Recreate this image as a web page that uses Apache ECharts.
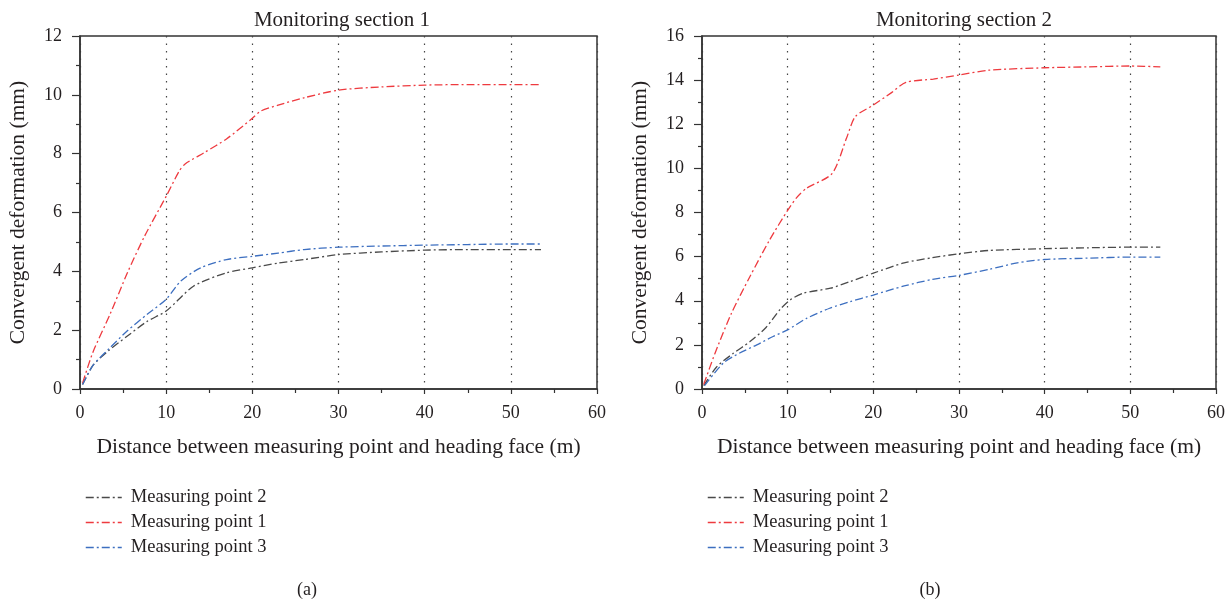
<!DOCTYPE html>
<html><head><meta charset="utf-8">
<script src="https://cdn.jsdelivr.net/npm/echarts@6/dist/echarts.min.js"></script>
<style>html,body{margin:0;padding:0;background:#fff}#c{width:1231px;height:601px}</style>
</head><body><div id="c"></div>
<script>
// Monitoring section 1
const s1_mp1_x = [0.3, 1.5, 3.5, 5.5, 7.5, 10, 11.5, 12.2, 14.5, 17, 20, 21, 23, 26, 30, 35, 40, 45, 50, 53.5];
const s1_mp1_y = [0.2, 1.25, 2.55, 3.95, 5.2, 6.55, 7.4, 7.65, 8.05, 8.5, 9.2, 9.45, 9.65, 9.9, 10.16, 10.27, 10.33, 10.35, 10.35, 10.35];
const s1_mp2_x = [0.3, 1.5, 3.3, 5.5, 7.8, 10, 13.2, 17, 20, 23, 26, 30, 35, 40, 45, 50, 53.5];
const s1_mp2_y = [0.15, 0.8, 1.3, 1.8, 2.3, 2.65, 3.5, 3.95, 4.12, 4.28, 4.4, 4.57, 4.66, 4.72, 4.74, 4.74, 4.74];
const s1_mp3_x = [0.3, 1.5, 3.3, 5.5, 7.8, 10, 11.7, 14, 17, 20, 23, 26, 30, 35, 40, 45, 50, 53.7];
const s1_mp3_y = [0.15, 0.8, 1.35, 1.98, 2.54, 3.05, 3.67, 4.12, 4.4, 4.51, 4.62, 4.74, 4.82, 4.86, 4.89, 4.91, 4.93, 4.93];
// Monitoring section 2
const s2_mp1_x = [0.2, 1.5, 3.4, 5.6, 7.9, 10, 11.1, 12.2, 15.2, 16.9, 17.9, 20, 22, 23.8, 27, 30, 33.5, 40, 45, 50, 53.5];
const s2_mp1_y = [0.2, 1.6, 3.4, 5.1, 6.76, 8.1, 8.7, 9.1, 9.77, 11.4, 12.35, 12.87, 13.4, 13.9, 14.05, 14.23, 14.45, 14.56, 14.6, 14.64, 14.6];
const s2_mp2_x = [0.2, 1.7, 3.6, 5.6, 7.5, 9.1, 10.3, 11.8, 15, 17.3, 20, 23.6, 26.9, 30, 33.5, 40, 45, 50, 53.5];
const s2_mp2_y = [0.15, 1.0, 1.6, 2.15, 2.8, 3.6, 4.04, 4.34, 4.57, 4.87, 5.25, 5.72, 5.95, 6.13, 6.28, 6.36, 6.4, 6.43, 6.43];
const s2_mp3_x = [0.3, 2.5, 4.4, 6.4, 8.3, 10, 12.2, 14.9, 17.3, 20, 23.6, 26.9, 30, 33.5, 36.8, 40, 45, 50, 53.5];
const s2_mp3_y = [0.15, 1.18, 1.63, 2.0, 2.38, 2.68, 3.2, 3.66, 3.96, 4.26, 4.67, 4.97, 5.15, 5.42, 5.72, 5.87, 5.93, 5.98, 5.98];

const titles = ['Monitoring section 1', 'Monitoring section 2'];
const panelLabels = ['(a)', '(b)'];
const names = ['Measuring point 2', 'Measuring point 1', 'Measuring point 3'];
const yMax = [12, 16];

const FONT = '"Liberation Serif", "DejaVu Serif", serif';
const TXT = '#231f20';
const COLORS = {'Measuring point 1': '#ee3a3f', 'Measuring point 2': '#4a4a4a', 'Measuring point 3': '#3d6fc0'};
const pair = (xs, ys) => xs.map((x, i) => [x, ys[i]]);

const grids = [
  {left: 80, top: 36, width: 517, height: 353},
  {left: 702, top: 36, width: 514, height: 353}
];

function xAxis(i) {
  return {
    gridIndex: i, type: 'value', min: 0, max: 60, interval: 10,
    name: 'Distance between measuring point and heading face (m)',
    nameLocation: 'middle', nameGap: 47,
    nameTextStyle: {fontFamily: FONT, fontSize: 21.5, color: TXT},
    axisLine: {show: true, lineStyle: {color: '#333', width: 1.5}},
    axisTick: {show: true, length: 5, lineStyle: {color: '#333', width: 1.2}},
    minorTick: {show: true, splitNumber: 2, length: 4, lineStyle: {color: '#333', width: 1.2}},
    axisLabel: {fontFamily: FONT, fontSize: 18, color: TXT, margin: 15},
    splitLine: {show: true, lineStyle: {type: [1.5, 6], color: '#444', width: 1.2}}
  };
}
function yAxis(i) {
  return {
    gridIndex: i, type: 'value', min: 0, max: yMax[i], interval: 2,
    name: 'Convergent deformation (mm)',
    nameLocation: 'middle', nameGap: 51,
    nameTextStyle: {fontFamily: FONT, fontSize: 21.5, color: TXT},
    axisLine: {show: true, lineStyle: {color: '#333', width: 1.5}},
    axisTick: {show: true, length: 8, lineStyle: {color: '#333', width: 1.2}},
    minorTick: {show: true, splitNumber: 2, length: 4, lineStyle: {color: '#333', width: 1.2}},
    axisLabel: {fontFamily: FONT, fontSize: 18, color: TXT, margin: 18},
    splitLine: {show: false}
  };
}

const seriesData = [
  {'Measuring point 2': pair(s1_mp2_x, s1_mp2_y), 'Measuring point 1': pair(s1_mp1_x, s1_mp1_y), 'Measuring point 3': pair(s1_mp3_x, s1_mp3_y)},
  {'Measuring point 2': pair(s2_mp2_x, s2_mp2_y), 'Measuring point 1': pair(s2_mp1_x, s2_mp1_y), 'Measuring point 3': pair(s2_mp3_x, s2_mp3_y)}
];

const series = [];
[0, 1].forEach(i => {
  names.forEach(n => {
    series.push({
      name: n, type: 'line', xAxisIndex: i, yAxisIndex: i,
      data: seriesData[i][n], symbol: 'none', smooth: 0.25, animation: false,
      lineStyle: {color: COLORS[n], width: 1.3, type: [8, 3, 2, 3]},
      itemStyle: {color: COLORS[n]}
    });
  });
});

const legendCommon = {
  top: 483, orient: 'vertical', itemWidth: 36, itemHeight: 12, itemGap: 6, data: names,
  textStyle: {fontFamily: FONT, fontSize: 18.5, color: TXT, padding: [0, 0, 0, 4]}, selectedMode: false,
  itemStyle: {opacity: 0, borderWidth: 0},
  lineStyle: {width: 1.5}
};

const titleStyle = (fs) => ({fontFamily: FONT, fontSize: fs, fontWeight: 'normal', color: TXT});
const option = {
  backgroundColor: '#fff',
  animation: false,
  title: [
    {text: titles[0], left: 337, top: 5, textAlign: 'center', textStyle: titleStyle(21)},
    {text: titles[1], left: 959, top: 5, textAlign: 'center', textStyle: titleStyle(21)},
    {text: panelLabels[0], left: 302, top: 576, textAlign: 'center', textStyle: titleStyle(18)},
    {text: panelLabels[1], left: 925, top: 576, textAlign: 'center', textStyle: titleStyle(18)}
  ],
  grid: grids.map(g => Object.assign({show: true, borderColor: '#333', borderWidth: 1.5, backgroundColor: 'transparent'}, g)),
  xAxis: [xAxis(0), xAxis(1)],
  yAxis: [yAxis(0), yAxis(1)],
  legend: [
    Object.assign({left: 80}, legendCommon),
    Object.assign({left: 702}, legendCommon)
  ],
  series: series
};
const chart = echarts.init(document.getElementById('c'), null, {renderer: 'canvas'});
chart.setOption(option);
</script></body></html>
